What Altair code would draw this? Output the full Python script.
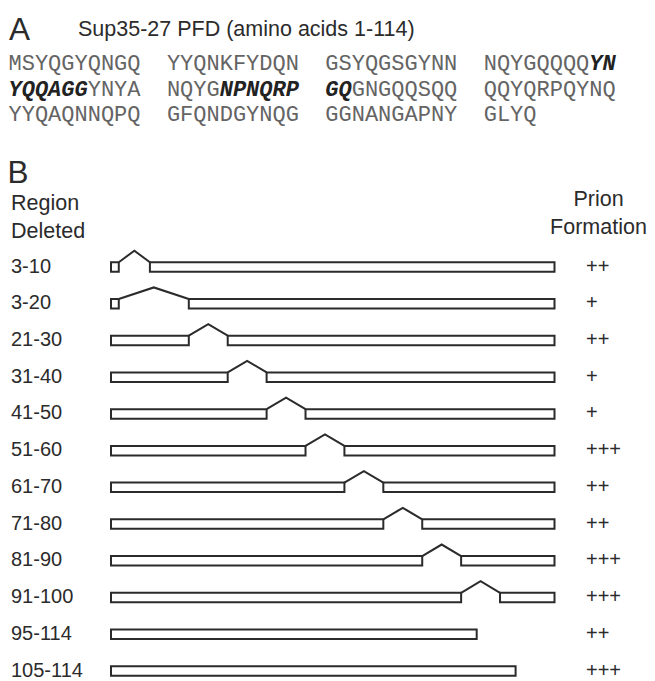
import altair as alt
import pandas as pd

# ---------------- data ----------------
SEQUENCE = ("MSYQGYQNGQYYQNKFYDQNGSYQGSGYNNNQYGQQQQYN"
            "YQQAGGYNYANQYGNPNQRPGQGNGQQSQQQQYQRPQYNQ"
            "YYQAQNNQPQGFQNDGYNQGGGNANGAPNYGLYQ")
BOLD_RANGES = [(39, 46), (55, 62)]          # residues shown bold italic
PROTEIN_LENGTH = 114

REGIONS = ["3-10", "3-20", "21-30", "31-40", "41-50", "51-60",
           "61-70", "71-80", "81-90", "91-100", "95-114", "105-114"]
DEL_START = [3, 3, 21, 31, 41, 51, 61, 71, 81, 91, 95, 105]
DEL_END = [10, 20, 30, 40, 50, 60, 70, 80, 90, 100, 114, 114]
PRION = ["++", "+", "++", "+", "+", "+++", "++", "++", "+++", "+++", "++", "+++"]

# ---------------- layout constants ----------------
ROW_TOP, ROW_BOTTOM = 267, 671
N = len(REGIONS)
ROW_PX = (ROW_BOTTOM - ROW_TOP) / (N - 1)
BAR_HALF = 4.75 / ROW_PX
PEAK = 16.3 / ROW_PX
INK = "#2b2b2b"
SANS = "Liberation Sans"

# ---------------- tables ----------------
bars, chev, labels = [], [], []
for i, (s, e) in enumerate(zip(DEL_START, DEL_END)):
    bars.append({"row": i, "x": 0, "x2": s - 1, "y": i - BAR_HALF, "y2": i + BAR_HALF})
    if e < PROTEIN_LENGTH:
        bars.append({"row": i, "x": e, "x2": PROTEIN_LENGTH, "y": i - BAR_HALF, "y2": i + BAR_HALF})
        chev += [
            {"row": i, "o": 0, "x": s - 1, "y": i - BAR_HALF},
            {"row": i, "o": 1, "x": (s - 1 + e) / 2, "y": i - PEAK},
            {"row": i, "o": 2, "x": e, "y": i - BAR_HALF},
        ]
    labels.append({"row": i, "region": REGIONS[i], "prion": PRION[i]})
bars_df = pd.DataFrame(bars)
chev_df = pd.DataFrame(chev)
lab_df = pd.DataFrame(labels)

seq_rows = []
for k, aa in enumerate(SEQUENCE):
    num = k + 1
    col = k % 40
    seq_rows.append({
        "aa": aa,
        "line": k // 40,
        "pos": col + 2 * (col // 10),
        "bold": any(a <= num <= b for a, b in BOLD_RANGES),
    })
seq_df = pd.DataFrame(seq_rows)

xs = alt.Scale(domain=[0, PROTEIN_LENGTH], range=[111, 554.5], nice=False, zero=False)
ys = alt.Scale(domain=[0, N - 1], range=[ROW_TOP, ROW_BOTTOM], nice=False, zero=False)
seq_x = alt.Scale(domain=[0, 48], range=[8.5, 8.5 + 48 * 13.2], nice=False, zero=False)
seq_y = alt.Scale(domain=[0, 2], range=[70, 121], nice=False, zero=False)

dummy = pd.DataFrame({"d": [0]})


def label(text, x, y, size, align="left", color=INK, font=SANS):
    return alt.Chart(dummy).mark_text(
        text=text, align=align, baseline="alphabetic", fontSize=size,
        font=font, color=color
    ).encode(x=alt.value(x), y=alt.value(y))


chev_layer = alt.Chart(chev_df).mark_line(color=INK, strokeWidth=2, strokeJoin="miter").encode(
    x=alt.X("x:Q", scale=xs, axis=None),
    y=alt.Y("y:Q", scale=ys, axis=None),
    detail="row:N",
    order="o:Q",
)
bar_layer = alt.Chart(bars_df).mark_rect(fill="white", stroke=INK, strokeWidth=2).encode(
    x=alt.X("x:Q", scale=xs, axis=None),
    x2="x2:Q",
    y=alt.Y("y:Q", scale=ys, axis=None),
    y2="y2:Q",
)
region_layer = alt.Chart(lab_df).mark_text(
    align="left", baseline="alphabetic", dy=5.5, fontSize=20, font=SANS, color=INK
).encode(x=alt.value(11), y=alt.Y("row:Q", scale=ys, axis=None), text="region:N")
prion_layer = alt.Chart(lab_df).mark_text(
    align="left", baseline="alphabetic", dy=5.5, fontSize=20, font=SANS, color=INK
).encode(x=alt.value(586), y=alt.Y("row:Q", scale=ys, axis=None), text="prion:N")

seq_normal = alt.Chart(seq_df).transform_filter("!datum.bold").mark_text(
    align="left", baseline="alphabetic", fontSize=22, font="Liberation Mono", color="#646464"
).encode(
    x=alt.X("pos:Q", scale=seq_x, axis=None),
    y=alt.Y("line:Q", scale=seq_y, axis=None),
    text="aa:N",
)
seq_bold = alt.Chart(seq_df).transform_filter("datum.bold").mark_text(
    align="left", baseline="alphabetic", fontSize=22, font="Liberation Mono",
    fontWeight="bold", fontStyle="italic", color="#222222"
).encode(
    x=alt.X("pos:Q", scale=seq_x, axis=None),
    y=alt.Y("line:Q", scale=seq_y, axis=None),
    text="aa:N",
)

chart = alt.layer(
    label("A", 9, 40, 31.5),
    label("Sup35-27 PFD (amino acids 1-114)", 78, 36, 21.5),
    seq_normal, seq_bold,
    label("B", 7.5, 183, 31.5),
    label("Region", 11, 210, 21.5),
    label("Deleted", 11, 237.5, 21.5),
    label("Prion", 598.5, 206, 21.5, align="center"),
    label("Formation", 598.5, 234, 21.5, align="center"),
    chev_layer, bar_layer, region_layer, prion_layer,
).resolve_scale(x="independent", y="independent").properties(
    width=655, height=681, padding=0, autosize=alt.AutoSizeParams(type="none"),
    background="white",
).configure_view(stroke=None)

chart.save("out.html", embed_options={"renderer": "svg", "actions": False})
